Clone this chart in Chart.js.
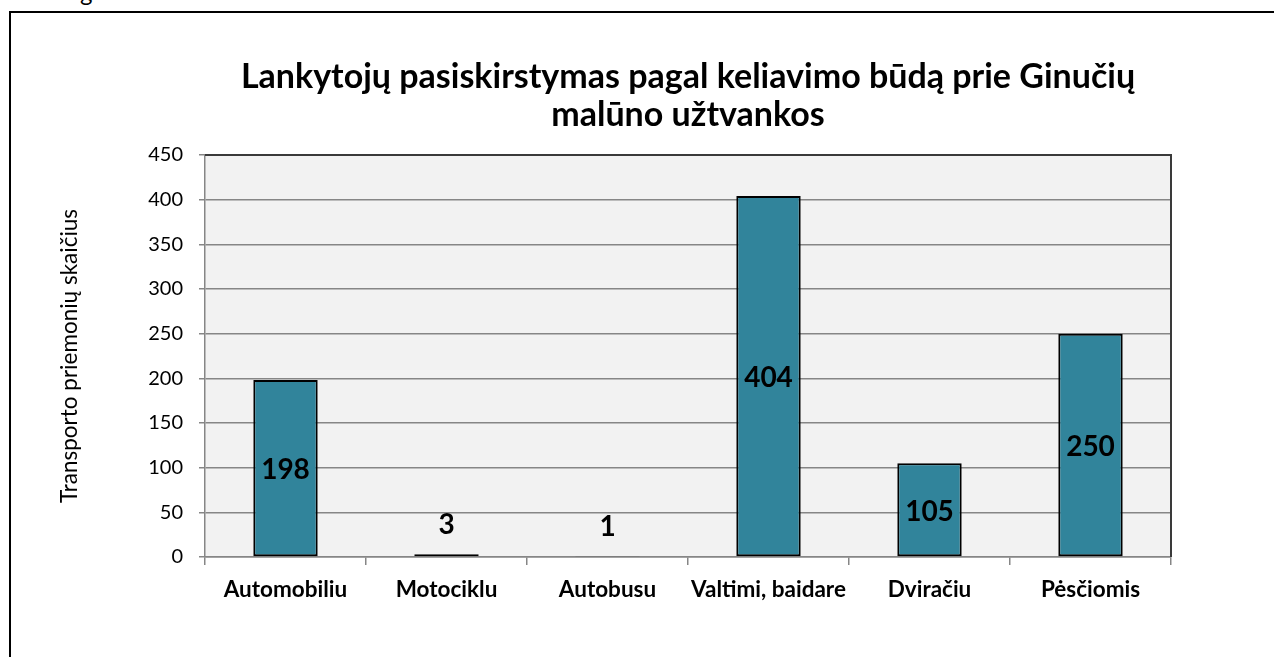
<!DOCTYPE html>
<html>
<head>
<meta charset="utf-8">
<script src="https://cdn.jsdelivr.net/npm/chart.js@4"></script>
<style>
  body { margin: 0; background: #fff; overflow: hidden; width: 1274px; height: 657px; position: relative; }
  #frame { position: absolute; left: 9px; top: 11px; width: 1400px; height: 800px; border: 2px solid #000; pointer-events: none; }
  #cut { position: absolute; left: 80px; top: -20px; font: 24px Lato, sans-serif; line-height: 24px; color: #000; }
  canvas { position: absolute; left: 0; top: 0; }
</style>
</head>
<body>
<div id="cut">g</div>
<div id="frame"></div>
<canvas id="bar_graph" width="1274" height="657"></canvas>
<script>
const categories = ["Automobiliu", "Motociklu", "Autobusu", "Valtimi, baidare", "Dviračiu", "Pėsčiomis"];
const counts = [198, 3, 1, 404, 105, 250];
const chartTitle = ["Lankytojų pasiskirstymas pagal keliavimo būdą prie Ginučių", "malūno užtvankos"];
const yTitle = "Transporto priemonių skaičius";

const FONT = "Lato, 'Open Sans', sans-serif";

// plot background + dark top/right frame + title centred over the plot
const plotBg = {
    id: 'plotBg',
    beforeDraw(chart) {
        const {ctx, chartArea: a} = chart;
        ctx.save();
        ctx.fillStyle = '#f2f2f2';
        ctx.fillRect(a.left, a.top, a.right - a.left, a.bottom - a.top);
        ctx.restore();
    },
    afterDraw(chart) {
        const {ctx, chartArea: a} = chart;
        ctx.save();
        ctx.strokeStyle = '#3a3a3a';
        ctx.lineWidth = 2;
        ctx.beginPath();
        ctx.moveTo(a.left, a.top);
        ctx.lineTo(a.right, a.top);
        ctx.lineTo(a.right, a.bottom);
        ctx.stroke();

        ctx.font = "bold 34px " + FONT;
        ctx.fillStyle = '#000';
        ctx.textAlign = 'center';
        ctx.textBaseline = 'alphabetic';
        const cx = (a.left + a.right) / 2;
        chartTitle.forEach((line, i) => {
            ctx.fillText(line, cx, 88 + i * 38);
        });
        ctx.restore();
    }
};

// value labels: centre of the bar, or above when the bar is tiny
const valueLabels = {
    id: 'valueLabels',
    afterDatasetsDraw(chart) {
        const {ctx} = chart;
        const meta = chart.getDatasetMeta(0);
        ctx.save();
        ctx.font = "bold 28px " + FONT;
        ctx.fillStyle = '#000';
        ctx.textAlign = 'center';
        ctx.textBaseline = 'middle';
        meta.data.forEach((bar, i) => {
            const v = counts[i];
            let y;
            if (v < 20)
                y = bar.y - 29;
            else
                y = (bar.y + bar.base) / 2 + 2;
            ctx.fillText(String(v), bar.x, y);
        });
        ctx.restore();
    }
};

const ctx = document.getElementById('bar_graph').getContext('2d');

const bar_graph = new Chart(ctx, {
    type: 'bar',
    data: {
        labels: categories,
        datasets: [{
            data: counts,
            backgroundColor: '#31849b',
            borderColor: '#000',
            borderWidth: 2,
            borderSkipped: false,
            categoryPercentage: 1,
            barPercentage: 0.4,
        }]
    },
    options: {
        responsive: false,
        animation: false,
        layout: {
            padding: {left: 0, right: 103, top: 155, bottom: 0}
        },
        plugins: {
            legend: {display: false},
            tooltip: {enabled: false},
            title: {display: false}
        },
        scales: {
            x: {
                grid: {
                    drawOnChartArea: false,
                    offset: true,
                    color: '#868686',
                    lineWidth: 1.5,
                    tickLength: 8,
                },
                border: {color: '#868686', width: 1.5},
                ticks: {
                    color: '#000',
                    padding: 11,
                    font: {family: FONT, size: 22.5, weight: 'bold'},
                },
                afterFit(scale) { scale.height = 100; }
            },
            y: {
                min: 0,
                max: 450,
                ticks: {
                    stepSize: 50,
                    color: '#000',
                    padding: 16,
                    font: {family: FONT, size: 20},
                },
                grid: {
                    color: '#868686',
                    lineWidth: 1.5,
                    tickLength: 6,
                },
                border: {color: '#868686', width: 1.5},
                title: {
                    display: true,
                    text: yTitle,
                    color: '#000',
                    font: {family: FONT, size: 22.5},
                    padding: {top: 56, bottom: 0},
                },
                afterFit(scale) { scale.width = 205; }
            }
        }
    },
    plugins: [plotBg, valueLabels]
});
</script>
</body>
</html>
